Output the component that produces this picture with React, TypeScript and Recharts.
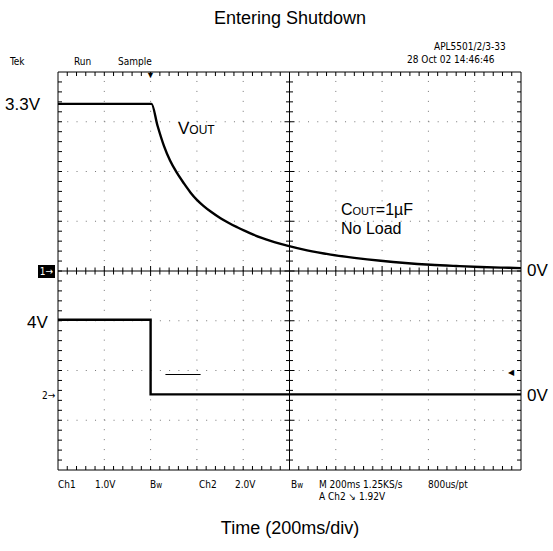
import React from 'react';
import { LineChart, Line, XAxis, YAxis, ReferenceLine } from 'recharts';

// screen units: 10 horizontal divisions (200ms/div), 8 vertical divisions
const DIV_X = [0, 1, 2, 3, 4, 5, 6, 7, 8, 9, 10];
const DIV_Y = [-4, -3, -2, -1, 0, 1, 2, 3, 4];

// Ch1 (VOUT), 1V/div, ground on the centre line
const ch1Time = [0, 2.02, 2.15, 2.29, 2.42, 2.57, 2.72, 2.86, 3.0, 3.14, 3.32, 3.51, 3.7, 3.87, 4.05, 4.22, 4.4, 4.59, 4.77, 4.95, 5.38, 5.89, 6.4, 6.97, 7.5, 8.05, 8.6, 9.12, 9.6, 10];
const ch1Volt = [3.36, 3.36, 2.92, 2.51, 2.22, 1.97, 1.76, 1.58, 1.43, 1.31, 1.18, 1.06, 0.96, 0.88, 0.8, 0.73, 0.665, 0.605, 0.555, 0.51, 0.415, 0.33, 0.265, 0.205, 0.16, 0.125, 0.1, 0.08, 0.067, 0.058];

// Ch2 (EN), position on screen in divisions
const ch2Time = [0, 2.0, 2.0, 10];
const ch2Level = [-0.98, -0.98, -2.48, -2.48];

// stray segment on the screen
const strayTime = [2.32, 3.08];
const strayLevel = -2.08;

const ch1Data = ch1Time.map((t, i) => ({ t, v: ch1Volt[i] }));
const ch2Data = ch2Time.map((t, i) => ({ t, v: ch2Level[i] }));

const W = 553;
const H = 551;
const MARGIN = { top: 72, right: 32, bottom: 81, left: 58 };

const sans = '"Liberation Sans", Arial, sans-serif';
const narrow = '"Liberation Sans Narrow", "DejaVu Sans Condensed", sans-serif';

function tickedLine(side: string) {
  return (props: any) => {
    const { x1, y1, x2, y2 } = props;
    const horiz = Math.abs(y2 - y1) < Math.abs(x2 - x1);
    const a = horiz ? Math.min(x1, x2) : Math.min(y1, y2);
    const b = horiz ? Math.max(x1, x2) : Math.max(y1, y2);
    const n = horiz ? 50 : 40;
    const ticks = [];
    for (let i = 1; i < n; i++) {
      const p = a + ((b - a) * i) / n;
      const major = i % 5 === 0;
      let lo = 0;
      let hi = 0;
      if (side === 'center') {
        const s = major ? 5 : 3.5;
        lo = -s;
        hi = s;
      } else if (side === 'top' || side === 'left') {
        hi = 4;
      } else {
        lo = -4;
      }
      if (horiz) ticks.push(<line key={i} x1={p} x2={p} y1={y1 + lo} y2={y1 + hi} />);
      else ticks.push(<line key={i} y1={p} y2={p} x1={x1 + lo} x2={x1 + hi} />);
    }
    return (
      <g stroke="#000" strokeWidth={1} fill="none">
        <line x1={x1} y1={y1} x2={x2} y2={y2} />
        {ticks}
      </g>
    );
  };
}

function T({ x, y, size = 16, font = sans, children, center = false }: any) {
  return (
    <div
      style={{
        position: 'absolute',
        left: x,
        top: y - size / 2,
        fontSize: size,
        lineHeight: `${size}px`,
        fontFamily: font,
        color: '#000',
        whiteSpace: 'nowrap',
        transform: center ? 'translateX(-50%)' : undefined,
      }}
    >
      {children}
    </div>
  );
}

export default function App() {
  return (
    <div style={{ position: 'absolute', left: 0, top: 0, width: W, height: H, background: '#fff' }}>
      <LineChart width={W} height={H} margin={MARGIN}>
        <XAxis hide type="number" dataKey="t" domain={[0, 10]} allowDataOverflow />
        <YAxis hide type="number" domain={[-4, 4]} allowDataOverflow />
        {DIV_X.filter((d) => d > 0 && d < 10 && d !== 5).map((d) => (
          <ReferenceLine key={'gx' + d} x={d} stroke="#777" strokeDasharray="1 8.95" />
        ))}
        {DIV_Y.filter((d) => d > -4 && d < 4 && d !== 0).map((d) => (
          <ReferenceLine key={'gy' + d} y={d} stroke="#777" strokeDasharray="1 8.26" />
        ))}
        <ReferenceLine x={5} shape={tickedLine('center')} />
        <ReferenceLine y={0} shape={tickedLine('center')} />
        <ReferenceLine y={4} shape={tickedLine('top')} />
        <ReferenceLine y={-4} shape={tickedLine('bottom')} />
        <ReferenceLine x={0} shape={tickedLine('left')} />
        <ReferenceLine x={10} shape={tickedLine('right')} />
        <ReferenceLine
          segment={[{ x: strayTime[0], y: strayLevel }, { x: strayTime[1], y: strayLevel }]}
          stroke="#000"
          strokeWidth={1.2}
        />
        <Line
          data={ch1Data}
          dataKey="v"
          type="monotone"
          stroke="#000"
          strokeWidth={2.4}
          dot={false}
          isAnimationActive={false}
        />
        <Line
          data={ch2Data}
          dataKey="v"
          type="linear"
          stroke="#000"
          strokeWidth={2.4}
          dot={false}
          isAnimationActive={false}
        />
      </LineChart>

      <T x={290} y={18} size={18} center>Entering Shutdown</T>
      <T x={434} y={47} size={10} font={narrow}>APL5501/2/3-33</T>
      <T x={407} y={60} size={10} font={narrow}>28 Oct 02 14:46:46</T>
      <T x={10} y={62} size={10} font={narrow}>Tek</T>
      <T x={74} y={62} size={10} font={narrow}>Run</T>
      <T x={118} y={62} size={10} font={narrow}>Sample</T>
      <T x={146} y={75} size={9} font={sans}>▼</T>

      <T x={5} y={104} size={17}>3.3V</T>
      <T x={178} y={128} size={17}>
        V<span style={{ fontSize: 12 }}>OUT</span>
      </T>
      <T x={341} y={210} size={16}>
        C<span style={{ fontSize: 11 }}>OUT</span>=1µF
      </T>
      <T x={341} y={229} size={16}>No Load</T>
      <T x={527} y={270} size={17}>0V</T>
      <T x={27} y={322} size={17}>4V</T>
      <T x={527} y={395} size={17}>0V</T>

      <div
        style={{
          position: 'absolute',
          left: 38,
          top: 265,
          width: 17,
          height: 13,
          background: '#000',
          color: '#fff',
          fontFamily: narrow,
          fontSize: 10,
          lineHeight: '13px',
          textAlign: 'center',
        }}
      >
        1→
      </div>
      <T x={42} y={396} size={10} font={narrow}>2→</T>
      <T x={508} y={373} size={8} font={sans}>◀</T>

      <T x={58} y={485} size={10} font={narrow}>Ch1</T>
      <T x={95} y={485} size={10} font={narrow}>1.0V</T>
      <T x={150} y={485} size={10} font={narrow}>B<span style={{ fontSize: 8 }}>w</span></T>
      <T x={199} y={485} size={10} font={narrow}>Ch2</T>
      <T x={235} y={485} size={10} font={narrow}>2.0V</T>
      <T x={291} y={485} size={10} font={narrow}>B<span style={{ fontSize: 8 }}>w</span></T>
      <T x={319} y={485} size={10} font={narrow}>M 200ms 1.25KS/s</T>
      <T x={428} y={485} size={10} font={narrow}>800us/pt</T>
      <T x={319} y={497} size={10} font={narrow}>A  Ch2  ↘  1.92V</T>

      <T x={290} y={528} size={18} center>Time (200ms/div)</T>
    </div>
  );
}
